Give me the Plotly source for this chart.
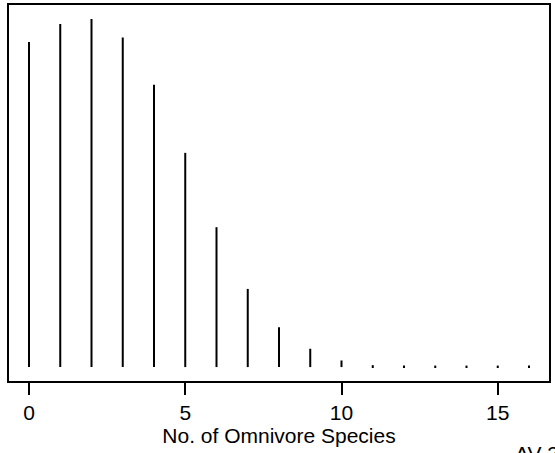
import plotly.graph_objects as go

# Data
species = list(range(17))
freq = [0.1527, 0.1611, 0.1635, 0.1548, 0.1326, 0.1006, 0.0657, 0.0367,
        0.0187, 0.0086, 0.0031, 0.0009, 0.0007, 0.0007, 0.0007, 0.0007, 0.0007]
tick_vals = [0, 5, 10, 15]
x_label = "No. of Omnivore Species"
corner_text = "AV 3"

ymax = max(freq)
xmin, xmax = min(species), max(species)
xpad = 0.04 * (xmax - xmin)

fig = go.Figure()
fig.add_trace(go.Bar(
    x=species, y=freq, width=0.064,
    marker=dict(color="black", line=dict(width=0)),
    showlegend=False, hoverinfo="x+y",
))

font = "Liberation Sans, Arial, Helvetica, sans-serif"
W, H = 555, 453
ml, mr, mt, mb = 9, 6, 5, 71.5
fig.update_layout(
    width=W, height=H,
    margin=dict(l=ml, r=mr, t=mt, b=mb, autoexpand=False),
    paper_bgcolor="white", plot_bgcolor="white",
    font=dict(family=font, size=21, color="black"),
    xaxis=dict(
        range=[xmin - xpad, xmax + xpad],
        tickvals=tick_vals, ticktext=[str(v) for v in tick_vals],
        ticks="outside", ticklen=12, tickwidth=1.5, tickcolor="black",
        showgrid=False, zeroline=False,
        showline=True, linecolor="black", linewidth=1.5, mirror=True,
        tickfont=dict(size=21),
        title=dict(text=x_label, font=dict(size=21), standoff=1),
    ),
    yaxis=dict(
        range=[-0.04 * ymax, 1.04 * ymax],
        showticklabels=False, ticks="", showgrid=False, zeroline=False,
        showline=True, linecolor="black", linewidth=1.5, mirror=True,
    ),
    annotations=[dict(
        text=corner_text, xref="paper", yref="paper",
        x=(513 - ml) / (W - ml - mr), y=-(441 - (H - mb)) / (H - mt - mb),
        xanchor="left", yanchor="top", showarrow=False,
        font=dict(size=21),
    )],
)

fig.write_html(
    "out.html",
    config={"displayModeBar": False},
    post_script="document.body.style.margin='0';document.body.style.overflow='hidden';",
)
